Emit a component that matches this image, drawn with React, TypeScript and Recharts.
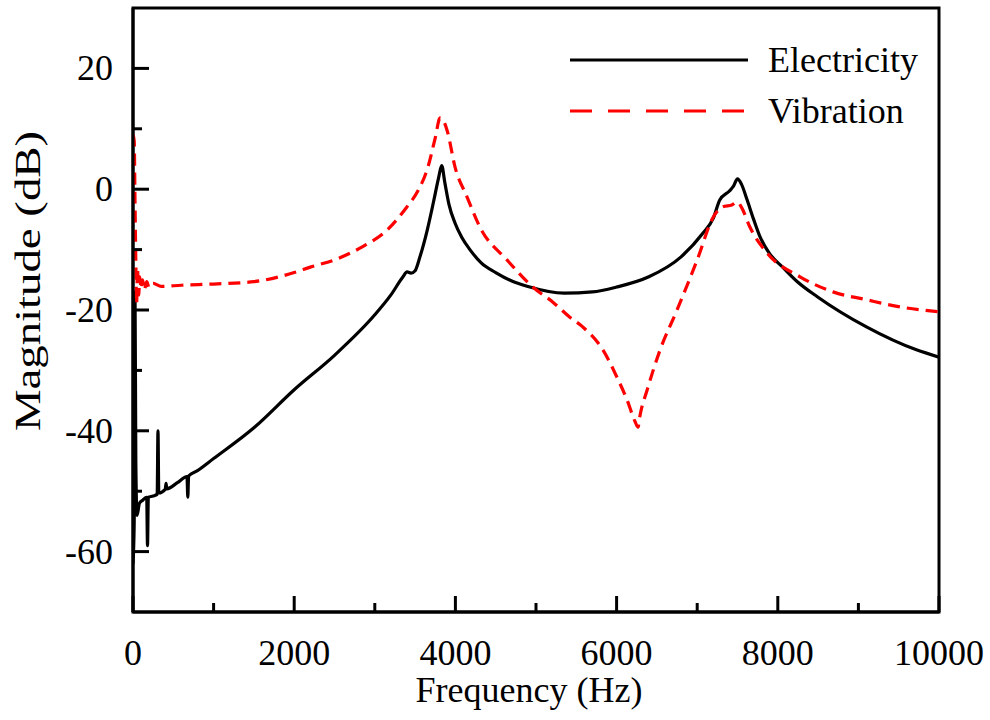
import React from "react";
import {
  LineChart,
  Line,
  XAxis,
  YAxis,
  ReferenceArea,
} from "recharts";

// Electricity response (Hz, dB)
const elecFreq = [
  0, 15, 25, 35, 50, 80, 120, 170, 180, 190, 250, 300, 310, 320, 400, 410, 420,
  550, 670, 680, 690, 800, 1000, 1500, 2000, 2500, 3000, 3200, 3350, 3400, 3450,
  3500, 3560, 3650, 3730, 3790, 3830, 3870, 3920, 3995, 4080, 4180, 4320, 4500,
  4700, 4900, 5350, 5700, 6000, 6400, 6800, 7070, 7200, 7280, 7400, 7450, 7500,
  7550, 7620, 7700, 7780, 7900, 8060, 8250, 8490, 9100, 9720, 10000,
];
const elecMag = [
  -62, -55, -17, -45, -54, -52, -51.5, -51, -59, -51, -50.8, -50.5, -40, -50.3,
  -49.7, -48.7, -49.6, -48.6, -47.6, -51, -47.5, -46.6, -44.6, -39.5, -33.2,
  -27.5, -20.8, -17.5, -14.5, -13.7, -13.9, -13.5, -11.2, -6.8, -2, 1.8, 3.9, 1,
  -2.5, -5.6, -8, -10, -12.2, -13.8, -15.2, -16.1, -17.2, -17, -16.2, -14.5,
  -11.2, -7.3, -4.8, -1.8, -0.3, 0.5, 1.7, 0.8, -1.8, -5, -7.9, -10.7, -12.9,
  -15.4, -17.8, -22.8, -26.6, -27.8,
];

// Vibration response (Hz, dB)
const vibFreq = [
  0, 15, 25, 35, 45, 55, 70, 85, 100, 120, 140, 170, 200, 250, 350, 600, 1000,
  1500, 2000, 2200, 2500, 2850, 3150, 3400, 3530, 3660, 3750, 3810, 3850, 3900,
  3995, 4145, 4305, 4640, 4960, 5210, 5420, 5580, 5830, 6000, 6130, 6230, 6266,
  6290, 6380, 6540, 6750, 7000, 7200, 7320, 7430, 7500, 7550, 7655, 7870, 8275,
  8685, 9100, 9520, 10000,
];
const vibMag = [
  9, 8, -2, -12, -19, -13, -17.5, -14.5, -16.5, -15, -16.7, -15.3, -16.3, -15.6,
  -16.1, -15.9, -15.7, -15.3, -13.8, -12.9, -11.7, -9.5, -6.8, -2.9, -0.4, 3.7,
  8.5, 11.8, 11.4, 9.6, 3.7, -1.3, -6.3, -11.7, -16.2, -18.7, -21.2, -22.8,
  -26.6, -31, -34.9, -38.5, -39.4, -37.5, -33.2, -26.6, -20, -11.7, -4.6, -2.9,
  -2.6, -2.1, -3, -6.3, -10.6, -14.5, -17, -18.3, -19.5, -20.3,
];

const xTicks = [0, 1000, 2000, 3000, 4000, 5000, 6000, 7000, 8000, 9000, 10000];
const yTicks = [-60, -50, -40, -30, -20, -10, 0, 10, 20];

const elecData = elecFreq.map((f, i) => ({ freq: f, mag: elecMag[i] }));
const vibData = vibFreq.map((f, i) => ({ freq: f, mag: vibMag[i] }));

const FONT = "'Liberation Serif', 'Times New Roman', serif";
const FS = 36;

function XTick({ x, y, payload }: any) {
  const major = payload.value % 2000 === 0;
  return (
    <g>
      <line x1={x} y1={y} x2={x} y2={y - (major ? 16 : 9)} stroke="#000" strokeWidth={3} />
      {major && (
        <text x={x} y={y + 53} textAnchor="middle" fontFamily={FONT} fontSize={FS} fill="#000">
          {payload.value}
        </text>
      )}
    </g>
  );
}

function YTick({ x, y, payload }: any) {
  const major = payload.value % 20 === 0;
  return (
    <g>
      <line x1={x} y1={y} x2={x + (major ? 16 : 9)} y2={y} stroke="#000" strokeWidth={3} />
      {major && (
        <text x={x - 20} y={y + 12} textAnchor="end" fontFamily={FONT} fontSize={FS} fill="#000">
          {payload.value}
        </text>
      )}
    </g>
  );
}

// axis titles drawn at fixed spots, props from recharts ignored
function XTitle() {
  return (
    <text x={529} y={702} textAnchor="middle" fontFamily={FONT} fontSize={FS} fill="#000">
      Frequency (Hz)
    </text>
  );
}

function YTitle() {
  // the reference title is stretched along its length
  return (
    <text
      x={0}
      y={0}
      textAnchor="middle"
      transform="translate(40, 281) rotate(-90) scale(1.3, 1)"
      fontFamily={FONT}
      fontSize={FS}
      fill="#000"
    >
      Magnitude (dB)
    </text>
  );
}

function LegendBox() {
  return (
    <g>
      <line x1={570} y1={60} x2={748} y2={60} stroke="#000" strokeWidth={3} />
      <text x={768} y={72} fontFamily={FONT} fontSize={FS} fill="#000">
        Electricity
      </text>
      <line x1={570} y1={111} x2={748} y2={111} stroke="#ff0000" strokeWidth={3} strokeDasharray="22 16" />
      <text x={768} y={123} fontFamily={FONT} fontSize={FS} fill="#000">
        Vibration
      </text>
    </g>
  );
}

export default function App() {
  return (
    <div style={{ position: "absolute", left: 0, top: 0 }}>
      <LineChart
        width={990}
        height={720}
        margin={{ top: 8, right: 51, bottom: 0, left: 0 }}
      >
        <XAxis
          dataKey="freq"
          type="number"
          domain={[0, 10000]}
          ticks={xTicks}
          interval={0}
          height={108}
          tickSize={0}
          tickMargin={0}
          tickLine={false}
          axisLine={{ stroke: "#000", strokeWidth: 3 }}
          tick={<XTick />}
          allowDataOverflow
          label={<XTitle />}
        />
        <YAxis
          type="number"
          domain={[-70, 30]}
          ticks={yTicks}
          interval={0}
          width={133}
          tickSize={0}
          tickMargin={0}
          tickLine={false}
          axisLine={{ stroke: "#000", strokeWidth: 3 }}
          tick={<YTick />}
          allowDataOverflow
          label={<YTitle />}
        />
        <ReferenceArea
          x1={0}
          x2={10000}
          y1={-70}
          y2={30}
          fill="none"
          stroke="#000"
          strokeWidth={3}
          fillOpacity={0}
          label={<LegendBox />}
        />
        <Line
          data={elecData}
          dataKey="mag"
          name="Electricity"
          type="monotone"
          stroke="#000"
          strokeWidth={3.2}
          dot={false}
          activeDot={false}
          isAnimationActive={false}
        />
        <Line
          data={vibData}
          dataKey="mag"
          name="Vibration"
          type="monotone"
          stroke="#ff0000"
          strokeWidth={3.2}
          strokeDasharray="12 7"
          dot={false}
          activeDot={false}
          isAnimationActive={false}
        />
      </LineChart>
    </div>
  );
}
